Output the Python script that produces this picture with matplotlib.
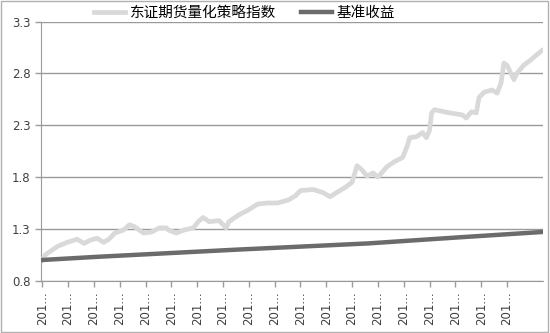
import matplotlib
matplotlib.use("Agg")
import matplotlib.pyplot as plt
from matplotlib.patches import Rectangle

plt.rcParams['font.family'] = ['Noto Sans CJK SC', 'DejaVu Sans']

# strategy index (x in label-tick units)
strat_x = [0.00, 0.12, 0.35, 0.58, 0.96, 1.35, 1.62, 1.85, 2.12, 2.38, 2.58, 2.81,
           3.15, 3.38, 3.58, 3.92, 4.23, 4.54, 4.81, 4.88, 5.19, 5.50, 5.85, 6.04,
           6.23, 6.46, 6.85, 7.12, 7.23, 7.58, 7.96, 8.35, 8.73, 9.12, 9.54, 9.81,
           10.00, 10.50, 10.88, 11.15, 11.46, 11.73, 12.00, 12.19, 12.38, 12.58, 12.81,
           13.00, 13.35, 13.65, 13.96, 14.15, 14.23, 14.50, 14.73, 14.88, 15.00, 15.08,
           15.19, 15.77, 16.27, 16.42, 16.62, 16.81, 16.92, 17.12, 17.42, 17.62, 17.77,
           17.88, 18.00, 18.27, 18.38, 18.65, 18.92, 19.15, 19.35]
strat_y = [1.00, 1.05, 1.09, 1.13, 1.17, 1.20, 1.16, 1.19, 1.21, 1.17, 1.20, 1.26,
           1.29, 1.34, 1.32, 1.26, 1.27, 1.31, 1.31, 1.29, 1.26, 1.29, 1.31, 1.37,
           1.41, 1.37, 1.38, 1.31, 1.37, 1.43, 1.48, 1.54, 1.55, 1.55, 1.58, 1.62,
           1.67, 1.68, 1.65, 1.61, 1.66, 1.70, 1.75, 1.91, 1.87, 1.81, 1.84,
           1.80, 1.90, 1.95, 1.99, 2.11, 2.18, 2.19, 2.23, 2.18, 2.25, 2.42,
           2.45, 2.42, 2.40, 2.37, 2.43, 2.42, 2.57, 2.62, 2.64, 2.61, 2.71,
           2.90, 2.88, 2.74, 2.80, 2.88, 2.93, 2.98, 3.02]

# benchmark
base_x = [0.00, 2.08, 7.54, 12.62, 16.23, 19.35]
base_y = [1.00, 1.03, 1.10, 1.16, 1.22, 1.27]

tick_labels = ['201...'] * 19
yticks = [0.8, 1.3, 1.8, 2.3, 2.8, 3.3]

fig = plt.figure(figsize=(5.5, 3.33), dpi=100)
ax = fig.add_axes([0.0745, 0.157, 0.913, 0.778])

ax.plot(strat_x, strat_y, color='#d9d9d9', lw=3.4, label='东证期货量化策略指数',
        solid_joinstyle='round', zorder=3)
ax.plot(base_x, base_y, color='#6b6b6b', lw=3.2, label='基准收益', zorder=3)

ax.set_xlim(-0.05, 19.4)
ax.set_ylim(0.8, 3.3)
ax.set_yticks(yticks)
ax.set_yticklabels(['%.1f' % v for v in yticks], family='DejaVu Sans')
ax.set_xticks(range(len(tick_labels)))
ax.set_xticklabels(tick_labels, rotation=90, family='DejaVu Sans')

ax.yaxis.grid(True, color='#9a9a9a', lw=1)
ax.set_axisbelow(True)
for s in ['top', 'right']:
    ax.spines[s].set_visible(False)
for s in ['left', 'bottom']:
    ax.spines[s].set_color('#9a9a9a')
ax.tick_params(axis='both', colors='#9a9a9a', labelcolor='#404040',
               labelsize=8.5, length=4, width=1)

fig.legend(loc='center', bbox_to_anchor=(0.445, 0.96), ncol=2, frameon=False,
           fontsize=10.5, handlelength=2.1, handletextpad=0.35, columnspacing=1.7)

fig.patches.append(Rectangle((0.002, 0.004), 0.994, 0.992, transform=fig.transFigure,
                             fill=False, edgecolor='#b0b0b0', lw=1))

fig.savefig('out.png', dpi=100)
